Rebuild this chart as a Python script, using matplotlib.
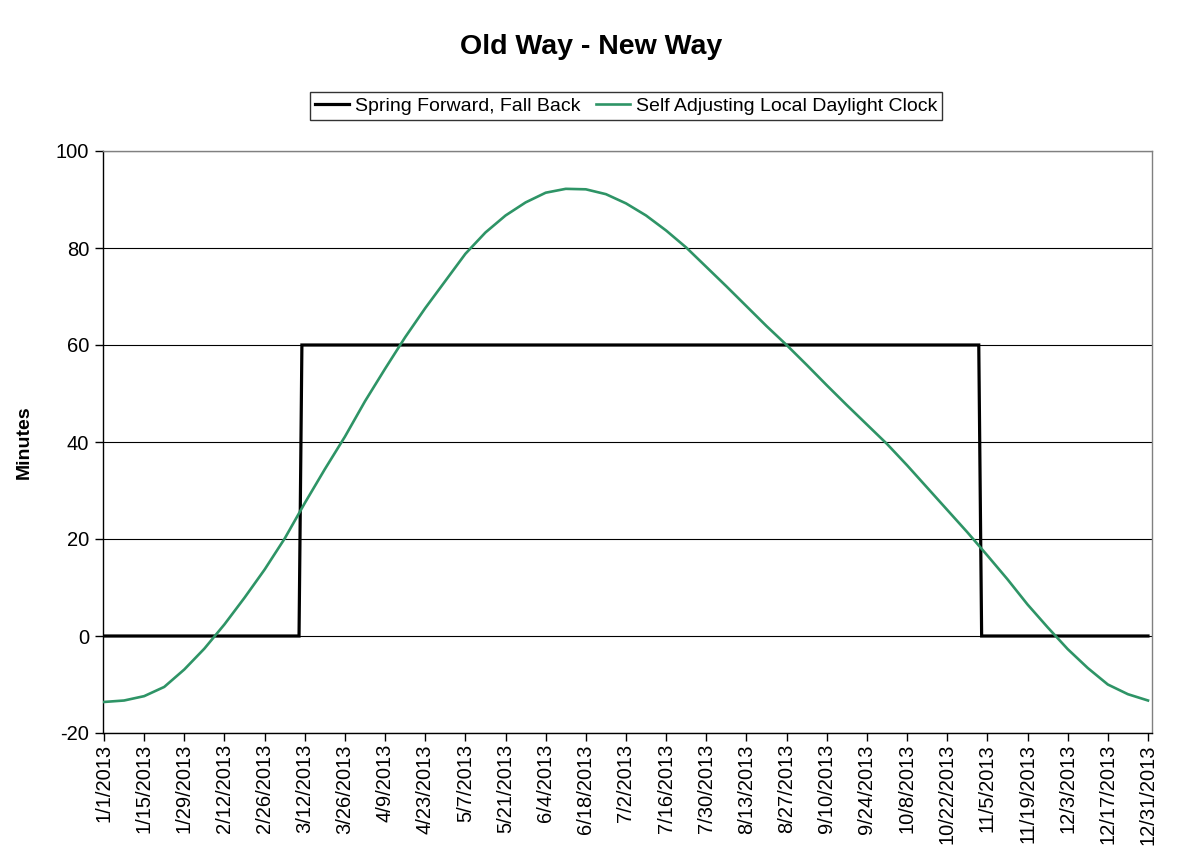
import datetime as dt
import matplotlib
matplotlib.use("Agg")
import matplotlib.pyplot as plt
import matplotlib.dates as mdates

plt.rcParams['font.family'] = ['Liberation Sans', 'DejaVu Sans']
plt.rcParams['axes.unicode_minus'] = False

# ---- data ----
series_names = ["Spring Forward, Fall Back", "Self Adjusting Local Daylight Clock"]

# Spring forward / fall back (minutes), breakpoints of the step series
step_dates = ["2013-01-01", "2013-03-10", "2013-03-11", "2013-11-02", "2013-11-03", "2013-12-31"]
step_values = [0, 0, 60, 60, 0, 0]

# Self adjusting clock (minutes)
green_start = "2013-01-01"
green_step_days = 7
green_values = [
    -13.6, -13.3, -12.4, -10.5, -6.9, -2.6, 2.4, 7.9, 13.7, 20.1,
    27.4, 34.4, 41.1, 48.4, 55.1, 61.6, 67.6, 73.2, 78.8, 83.2,
    86.7, 89.4, 91.4, 92.2, 92.1, 91.1, 89.2, 86.7, 83.6, 80.1,
    76.1, 72.1, 68.0, 63.9, 60.0, 55.9, 51.7, 47.6, 43.6, 39.6,
    35.2, 30.6, 26.0, 21.4, 16.6, 11.7, 6.5, 1.8, -2.7, -6.6,
    -10.0, -12.0, -13.3,
]

tick_labels = [
    "1/1/2013", "1/15/2013", "1/29/2013", "2/12/2013", "2/26/2013", "3/12/2013",
    "3/26/2013", "4/9/2013", "4/23/2013", "5/7/2013", "5/21/2013", "6/4/2013",
    "6/18/2013", "7/2/2013", "7/16/2013", "7/30/2013", "8/13/2013", "8/27/2013",
    "9/10/2013", "9/24/2013", "10/8/2013", "10/22/2013", "11/5/2013", "11/19/2013",
    "12/3/2013", "12/17/2013", "12/31/2013",
]

y_ticks = [-20, 0, 20, 40, 60, 80, 100]

# ---- build x values ----
def to_date(s):
    if "-" in s:
        return dt.datetime.strptime(s, "%Y-%m-%d")
    return dt.datetime.strptime(s, "%m/%d/%Y")

step_x = [to_date(s) for s in step_dates]
g0 = to_date(green_start)
green_x = [g0 + dt.timedelta(days=green_step_days * i) for i in range(len(green_values))]
tick_x = [to_date(s) for s in tick_labels]

fig = plt.figure(figsize=(11.84, 8.67), dpi=100)
ax = fig.add_axes([103 / 1184, 134 / 867, 1049 / 1184, 582 / 867])

ax.plot(step_x, step_values, color="black", lw=2.3, solid_joinstyle="miter", label=series_names[0], zorder=3)
ax.plot(green_x, green_values, color="#2e9466", lw=1.9, label=series_names[1], zorder=4)

start = mdates.date2num(to_date("2013-01-01"))
ax.set_xlim(start - 0.35, start + 365.4)
ax.set_ylim(-20, 100)
ax.set_yticks(y_ticks)
ax.set_xticks(mdates.date2num(tick_x))
ax.set_xticklabels(tick_labels, rotation=90, fontsize=14.5)
ax.tick_params(axis="y", labelsize=14.5, direction="out", length=6, width=1, pad=4)
ax.tick_params(axis="x", direction="out", length=6, width=1, pad=2)

ax.grid(axis="y", color="black", lw=0.8, zorder=1)
ax.set_axisbelow(True)
for side in ["top", "right"]:
    ax.spines[side].set_color("#808080")
    ax.spines[side].set_linewidth(1)
for side in ["left", "bottom"]:
    ax.spines[side].set_color("black")
    ax.spines[side].set_linewidth(1)

ax.set_ylabel("Minutes", fontsize=14, fontweight="bold")
ax.yaxis.set_label_coords(-0.067, 0.5)

fig.text(591 / 1184, 1 - 47 / 867, "Old Way - New Way", ha="center", va="center",
         fontsize=20.5, fontweight="bold")

leg = fig.legend(loc="center", bbox_to_anchor=(626 / 1184, 1 - 106 / 867), ncol=2,
                 fontsize=14, frameon=True, fancybox=False, shadow=False,
                 handlelength=1.75, handletextpad=0.3, columnspacing=0.8,
                 borderpad=0.25, borderaxespad=0)
leg.get_frame().set_edgecolor("black")
leg.get_frame().set_linewidth(1)

fig.savefig("out.png", dpi=100, facecolor="white")
